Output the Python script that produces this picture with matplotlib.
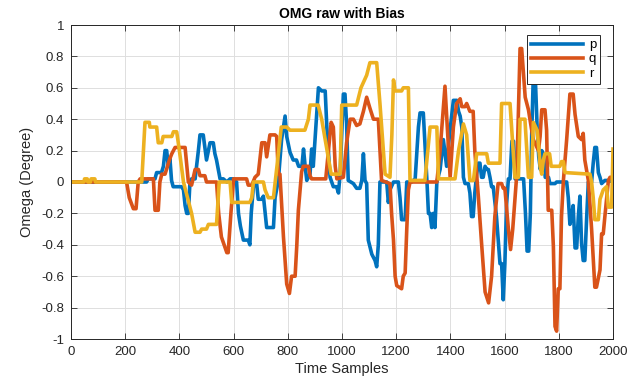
import matplotlib
matplotlib.use("Agg")
import matplotlib.pyplot as plt

plt.rcParams['font.family'] = ['Liberation Sans', 'DejaVu Sans']
plt.rcParams['axes.unicode_minus'] = False

title = "OMG raw with Bias"
xlabel = "Time Samples"
ylabel = "Omega (Degree)"
series_names = ["p", "q", "r"]
x_ticks = [0, 200, 400, 600, 800, 1000, 1200, 1400, 1600, 1800, 2000]
y_ticks = [-1, -0.8, -0.6, -0.4, -0.2, 0, 0.2, 0.4, 0.6, 0.8, 1]
y_tick_labels = ["-1", "-0.8", "-0.6", "-0.4", "-0.2", "0", "0.2", "0.4", "0.6", "0.8", "1"]

p_x = [0, 279, 285, 310, 316, 334, 341, 347, 353, 359, 365, 371, 377, 408, 415, 421, 427, 433, 439, 445, 458, 470, 476, 488, 500, 507, 513, 525, 531, 537, 550, 562, 575, 587, 600, 605, 611, 618, 625, 636, 654, 660, 665, 673, 685, 691, 704, 710, 722, 747, 753, 765, 777, 790, 796, 808, 820, 832, 840, 852, 858, 864, 870, 882, 888, 894, 913, 925, 938, 944, 956, 968, 980, 987, 993, 1005, 1011, 1017, 1023, 1042, 1054, 1066, 1073, 1079, 1085, 1091, 1097, 1110, 1122, 1128, 1134, 1140, 1165, 1171, 1177, 1190, 1208, 1214, 1220, 1233, 1239, 1257, 1270, 1282, 1288, 1300, 1306, 1313, 1319, 1325, 1331, 1337, 1343, 1350, 1362, 1374, 1386, 1393, 1411, 1424, 1430, 1436, 1442, 1448, 1454, 1466, 1472, 1478, 1484, 1490, 1497, 1503, 1509, 1515, 1521, 1528, 1534, 1540, 1546, 1552, 1558, 1570, 1583, 1589, 1595, 1601, 1607, 1614, 1620, 1627, 1633, 1639, 1651, 1670, 1677, 1683, 1689, 1695, 1700, 1706, 1713, 1720, 1726, 1732, 1737, 1743, 1750, 1762, 1767, 1786, 1792, 1829, 1835, 1841, 1847, 1853, 1860, 1866, 1872, 1878, 1884, 1890, 1896, 1903, 1909, 1921, 1927, 1933, 1939, 1946, 1952, 1958, 1970, 1990, 2000]
p_y = [0, 0, 0.02, 0.02, 0.06, 0.06, 0.1, 0.2, 0.2, 0.1, 0.15, 0.01, -0.03, -0.03, -0.05, -0.15, -0.2, -0.2, 0, 0.02, 0.02, 0.2, 0.3, 0.3, 0.14, 0.2, 0.25, 0.25, 0.18, 0.14, 0.02, 0.02, 0, 0.02, 0.02, 0.01, 0, -0.2, -0.28, -0.37, -0.37, -0.4, -0.2, -0.03, -0.01, -0.11, -0.11, -0.09, -0.29, -0.29, -0.1, 0.01, 0.27, 0.42, 0.29, 0.19, 0.14, 0.14, 0.1, 0.1, 0.21, 0.1, 0.01, 0.05, 0.21, 0.1, 0.6, 0.58, 0.58, 0.35, 0.03, -0.03, -0.03, -0.07, 0.05, 0.56, 0.56, 0.37, 0.01, -0.01, -0.04, -0.04, 0.01, 0.18, 0.01, -0.01, -0.37, -0.46, -0.5, -0.54, -0.4, 0, 0, -0.13, -0.05, 0, 0, -0.1, -0.24, -0.24, 0, 0, 0.02, 0.35, 0.44, 0.44, 0.25, 0.02, -0.2, -0.2, -0.29, -0.2, -0.29, 0, 0.08, 0.27, 0.1, 0.24, 0.52, 0.52, 0.45, 0.42, 0.35, 0.03, -0.01, -0.01, -0.07, -0.22, -0.22, -0.07, 0.05, 0.12, 0.12, 0.03, 0.03, 0.1, 0.08, 0.08, 0.03, -0.03, -0.03, -0.22, -0.52, -0.52, -0.75, -0.52, -0.15, 0.02, 0.02, 0.26, 0.26, 0.02, 0.02, 0.02, -0.2, -0.44, -0.44, -0.2, 0.3, 0.68, 0.68, 0.35, 0.16, 0.08, 0.2, 0.18, 0.03, 0.03, -0.01, -0.01, 0, 0, -0.1, -0.27, -0.22, -0.15, -0.42, -0.42, -0.22, -0.09, -0.39, -0.5, -0.5, -0.22, 0, 0, 0.12, 0.22, 0.22, 0.06, 0.03, -0.01, 0.01, 0.01, 0.0]

q_x = [0, 205, 215, 230, 240, 248, 255, 304, 310, 322, 328, 335, 347, 365, 372, 384, 421, 433, 445, 458, 470, 476, 494, 500, 537, 545, 555, 575, 580, 590, 600, 648, 654, 667, 679, 691, 704, 716, 722, 734, 753, 759, 765, 771, 784, 796, 806, 814, 827, 833, 839, 851, 857, 876, 882, 888, 940, 950, 960, 968, 975, 981, 1005, 1017, 1030, 1042, 1054, 1066, 1079, 1091, 1103, 1116, 1134, 1146, 1177, 1183, 1190, 1196, 1202, 1220, 1226, 1233, 1239, 1245, 1251, 1350, 1362, 1380, 1390, 1399, 1411, 1423, 1436, 1442, 1454, 1460, 1472, 1484, 1490, 1503, 1515, 1528, 1541, 1552, 1564, 1576, 1589, 1595, 1601, 1614, 1622, 1630, 1645, 1657, 1663, 1676, 1688, 1700, 1706, 1725, 1731, 1737, 1749, 1755, 1761, 1774, 1780, 1786, 1792, 1798, 1804, 1810, 1817, 1829, 1841, 1853, 1860, 1872, 1884, 1890, 1896, 1909, 1921, 1933, 1939, 1952, 1958, 1964, 1970, 1983, 1989, 2000]
q_y = [0, 0, -0.1, -0.17, -0.17, 0, 0.02, 0.02, -0.18, -0.18, 0, 0.05, 0.05, 0.15, 0.18, 0.22, 0.22, 0, -0.02, 0.08, 0.08, 0.04, 0.04, 0, 0, -0.2, -0.35, -0.45, -0.45, -0.2, 0.02, 0.02, -0.02, -0.02, 0.03, 0.05, 0.25, 0.25, 0.16, 0.3, 0.3, 0.29, 0.05, 0.05, -0.35, -0.65, -0.71, -0.6, -0.6, -0.41, -0.18, 0.065, 0.1, 0.1, 0.04, 0.02, 0.02, 0.2, 0.38, 0.35, 0.1, 0.02, 0.03, 0.25, 0.4, 0.4, 0.36, 0.37, 0.45, 0.54, 0.47, 0.4, 0.4, 0.01, -0.01, -0.2, -0.37, -0.6, -0.66, -0.68, -0.6, -0.58, -0.3, -0.05, 0, 0, 0.2, 0.61, 0.3, 0.03, 0.35, 0.5, 0.53, 0.48, 0.48, 0.5, 0.45, 0.45, 0.2, -0.09, -0.39, -0.7, -0.77, -0.6, -0.22, -0.01, -0.01, -0.04, -0.04, -0.3, -0.43, -0.3, 0.05, 0.85, 0.85, 0.54, 0.46, 0.33, 0.27, 0.2, 0.29, 0.46, 0.46, 0.33, -0.18, -0.18, -0.41, -0.92, -0.95, -0.68, -0.68, -0.22, 0.01, 0.27, 0.56, 0.56, 0.43, 0.29, 0.27, 0.31, 0.14, 0.01, -0.3, -0.67, -0.67, -0.56, -0.33, -0.33, -0.22, 0.01, 0.03, 0.03]

r_x = [0, 48, 50, 60, 62, 72, 74, 88, 90, 261, 273, 289, 291, 316, 322, 335, 340, 372, 378, 390, 400, 415, 430, 445, 458, 476, 482, 500, 507, 537, 547, 587, 593, 660, 667, 673, 710, 716, 728, 747, 760, 776, 796, 808, 863, 876, 882, 912, 925, 945, 960, 993, 999, 1054, 1070, 1091, 1103, 1128, 1140, 1159, 1177, 1184, 1190, 1196, 1220, 1226, 1245, 1251, 1306, 1325, 1350, 1356, 1417, 1430, 1448, 1460, 1472, 1485, 1497, 1534, 1540, 1583, 1589, 1620, 1638, 1651, 1657, 1675, 1688, 1700, 1706, 1720, 1727, 1731, 1737, 1743, 1749, 1766, 1772, 1804, 1810, 1817, 1823, 1915, 1921, 1927, 1933, 1946, 1952, 1964, 1976, 1983, 1995, 2000]
r_y = [0, 0, 0.02, 0.02, 0, 0, 0.02, 0.02, 0, 0, 0.38, 0.38, 0.35, 0.35, 0.25, 0.25, 0.29, 0.29, 0.32, 0.32, 0.2, 0, -0.1, -0.2, -0.32, -0.32, -0.3, -0.3, -0.27, -0.27, 0, 0, -0.13, -0.13, -0.1, 0, 0, -0.05, -0.1, -0.1, 0.1, 0.35, 0.35, 0.33, 0.33, 0.4, 0.49, 0.49, 0.4, 0.2, 0.05, 0.05, 0.49, 0.49, 0.6, 0.68, 0.76, 0.76, 0.5, 0.05, 0.03, 0.3, 0.65, 0.58, 0.58, 0.6, 0.6, 0.01, 0.01, 0.35, 0.35, 0.02, 0.02, 0.2, 0.37, 0.3, 0.01, 0.01, 0.18, 0.18, 0.12, 0.12, 0.5, 0.5, 0.03, 0.03, 0.4, 0.4, 0.03, 0.03, 0.38, 0.33, 0.2, 0.1, 0.05, 0.14, 0.18, 0.18, 0.1, 0.1, 0.13, 0.13, 0.06, 0.05, 0, -0.1, -0.24, -0.24, -0.11, -0.05, -0.03, -0.16, -0.16, 0.21]

colors = ['#0072BD', '#D95319', '#EDB120']
axc = '#262626'

fig = plt.figure(figsize=(6.33, 3.82), dpi=100)
ax = fig.add_axes([71/633, 43/382, 542/633, 314/382])

for xs, ys, name, c in zip([p_x, q_x, r_x], [p_y, q_y, r_y], series_names, colors):
    ax.plot(xs, ys, color=c, lw=2.6, label=name)

ax.set_xlim(0, 2000)
ax.set_ylim(-1, 1)
ax.set_xticks(x_ticks)
ax.set_xticklabels([str(v) for v in x_ticks])
ax.set_yticks(y_ticks)
ax.set_yticklabels(y_tick_labels)
ax.grid(True, color='#dedede', lw=0.7)
ax.set_axisbelow(True)
ax.tick_params(direction='in', length=4, width=0.6, colors=axc, labelsize=9.5,
               top=True, right=True)
ax.tick_params(axis='x', pad=5)
ax.tick_params(axis='y', pad=5)
for s in ax.spines.values():
    s.set_color(axc)
    s.set_linewidth(0.7)

ax.set_title(title, fontsize=10, fontweight='bold', color='black', pad=5)
ax.set_xlabel(xlabel, fontsize=10.5, color=axc, labelpad=3)
ax.set_ylabel(ylabel, fontsize=10.5, color=axc, labelpad=5)

leg = ax.legend(loc='upper right', bbox_to_anchor=(1 - 13/542, 1 - 10/314),
                fontsize=9.5, handlelength=4.0, handletextpad=0.4,
                borderpad=0.3, labelspacing=0.15, fancybox=False,
                framealpha=1, edgecolor='#262626', borderaxespad=0)
leg.get_frame().set_linewidth(0.7)

fig.savefig('out.png', dpi=100)
